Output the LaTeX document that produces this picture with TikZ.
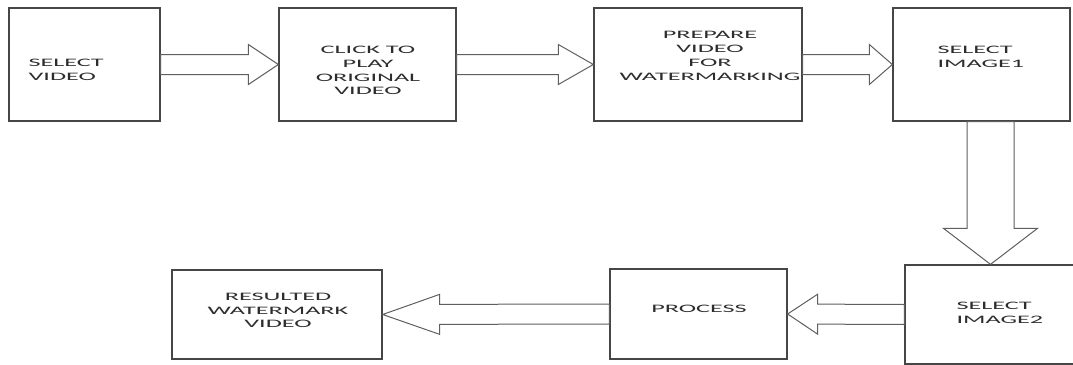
\documentclass[tikz,border=0pt]{standalone}
\usepackage{fontspec}
\usetikzlibrary{positioning, calc}
\newfontfamily\boxfont[FakeStretch=2.3]{Carlito}
\definecolor{linegrey}{RGB}{70,70,70}
\definecolor{arrowgrey}{RGB}{95,95,95}
\definecolor{textgrey}{RGB}{45,45,45}
% block arrow: from, to, head length, shaft half width, head half width
\newcommand{\blockarrow}[5]{%
    \coordinate (ha) at ($(#2)!#3!(#1)$);
    \draw[fat] ($(#1)!#4!90:(#2)$) -- ($(ha)!#4!90:(#2)$) -- ($(ha)!#5!90:(#2)$) -- (#2)
        -- ($(ha)!#5!-90:(#2)$) -- ($(ha)!#4!-90:(#2)$) -- ($(#1)!#4!-90:(#2)$) -- cycle;}

\begin{document}
\begin{tikzpicture}[x=1pt, y=-1pt,
    box/.style={draw=linegrey, line width=1.3pt, fill=white, inner sep=0pt},
    txt/.style={inner sep=0pt, text=textgrey, font=\boxfont\fontsize{11.4}{13.8}\selectfont},
    fat/.style={draw=arrowgrey, line width=1pt, fill=white, line join=miter}]
    \useasboundingbox (0,0) rectangle (1073,364);

    % Boxes
    \node[box, minimum width=151pt, minimum height=113pt] (selvid) at (84.5,64.5) {};
    \node[box, minimum width=177pt, minimum height=113pt] (play) at (367.5,64.5) {};
    \node[box, minimum width=208pt, minimum height=113pt] (prep) at (698,64.5) {};
    \node[box, minimum width=177pt, minimum height=113pt] (img1) at (981.5,64.5) {};
    \node[box, minimum width=171pt, minimum height=99pt] (img2) at (990.5,314.5) {};
    \node[box, minimum width=177pt, minimum height=90pt] (proc) at (698.5,314) {};
    \node[box, minimum width=210pt, minimum height=89pt] (result) at (277,314.5) {};

    % Texts
    \node[txt, anchor=west, align=left] (tselvid) at ($(selvid.west)+(20,5.5)$) {SELECT\\VIDEO};
    \node[txt, align=center] (tplay) at ($(play.center)+(0.5,6)$) {CLICK TO\\PLAY\\ORIGINAL\\VIDEO};
    \node[txt, align=center] (tprep) at ($(prep.center)+(12,-8.5)$) {PREPARE\\VIDEO\\FOR\\WATERMARKING};
    \node[txt, anchor=west, align=left] (timg1) at ($(img1.west)+(45,-8)$) {SELECT\\IMAGE1};
    \node[txt, anchor=west, align=left] (timg2) at ($(img2.west)+(52,-1.5)$) {SELECT\\IMAGE2};
    \node[txt] (tproc) at ($(proc.center)+(0.5,-5)$) {PROCESS};
    \node[txt, align=center] (tresult) at ($(result.center)+(1,-4)$) {RESULTED\\WATERMARK\\VIDEO};

    % Block arrows
    \coordinate (down) at (img1.south -| img2.north);
    \blockarrow{selvid.east}{play.west}{30pt}{10pt}{20pt}
    \blockarrow{play.east}{prep.west}{35pt}{10pt}{20pt}
    \blockarrow{prep.east}{img1.west}{23pt}{10pt}{20pt}
    \blockarrow{down}{img2.north}{36pt}{23.5pt}{47pt}
    \blockarrow{img2.west}{proc.east}{30pt}{10pt}{20pt}
    \blockarrow{proc.west}{result.east}{57pt}{10pt}{20pt}
\end{tikzpicture}
\end{document}
